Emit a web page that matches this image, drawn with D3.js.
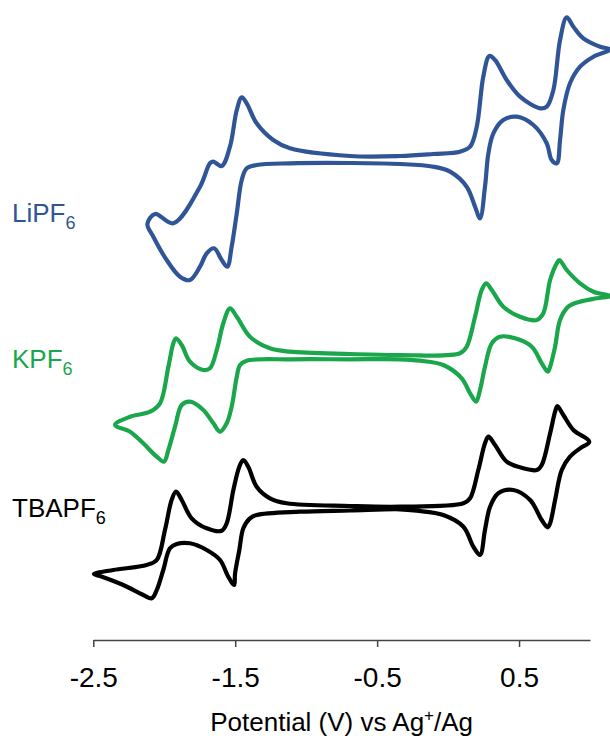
<!DOCTYPE html>
<html>
<head>
<meta charset="utf-8">
<script src="https://cdn.jsdelivr.net/npm/d3@7"></script>
<style>
  html, body { margin: 0; padding: 0; background: #fff; }
  svg { display: block; font-family: "Liberation Sans", Arial, Helvetica, sans-serif; }
</style>
</head>
<body>
<svg id="chart" width="610" height="738"></svg>
<script>
// Cyclic voltammograms, each loop as [potential (V vs Ag+/Ag), current (a.u., relative to its own baseline)]
const liPF6 = [
  [-2.119,-64],[-2.065,-54],[-1.936,-63.3],[-1.748,-26.7],[-1.678,-3.3],[-1.654,-1.7],[-1.595,-6],
  [-1.537,13.3],[-1.489,50],[-1.454,62.7],[-1.419,56.7],[-1.349,36.7],[-1.232,20],[-1.114,11.7],
  [-0.691,4],[-0.339,4],[-0.106,6],[0.084,8.3],[0.155,13.3],[0.202,33.3],[0.248,83.3],[0.291,104],
  [0.331,100],[0.413,80],[0.507,63.3],[0.648,51.7],[0.695,53.3],[0.742,70],[0.789,120],[0.836,142.7],
  [0.883,133.3],[0.953,121.7],[1.071,113.3],[1.141,110.5],
  [1.024,103.3],[0.930,93.3],[0.859,76.7],[0.812,50],[0.789,20],[0.766,-3.3],[0.730,0],[0.695,16.7],
  [0.601,35],[0.484,43.3],[0.389,40],[0.319,26.7],[0.284,6.7],[0.260,-26.7],[0.225,-58.3],[0.190,-46.7],
  [0.131,-26.7],[0.014,-11.7],[-0.104,-6.7],[-0.339,-4],[-0.691,-3],[-1.114,-3.3],[-1.349,-5],
  [-1.419,-8.3],[-1.454,-20],[-1.489,-53.3],[-1.525,-86.7],[-1.556,-106.7],[-1.595,-100],[-1.649,-88.3],
  [-1.701,-93.3],[-1.748,-106.7],[-1.819,-120],[-1.889,-116.7],[-1.983,-100],[-2.077,-76.7]
];

const kPF6 = [
  [-2.347,-65],[-2.241,-56.7],[-2.100,-51.7],[-2.030,-43.3],[-1.971,-6.7],[-1.936,16.7],[-1.917,21.7],
  [-1.877,15],[-1.819,-1.7],[-1.725,-10],[-1.678,-8.3],[-1.630,10],[-1.584,36.7],[-1.537,51.7],
  [-1.489,43.3],[-1.396,23.3],[-1.255,11.7],[-1.114,8.3],[-0.691,6],[-0.339,5],[0.084,6.7],[0.131,13.3],
  [0.190,43.3],[0.237,70],[0.268,76.7],[0.308,70],[0.389,53.3],[0.507,43.3],[0.625,40],[0.671,46.7],
  [0.719,80],[0.766,96.7],[0.784,100],[0.836,90],[0.930,76.7],[1.024,68.3],[1.141,64],
  [1.048,61.7],[0.930,58.3],[0.847,53.3],[0.789,40],[0.754,13.3],[0.719,-6.7],[0.702,-11.7],[0.660,-3.3],
  [0.590,13.3],[0.472,21.7],[0.366,23.3],[0.308,16.7],[0.260,-6.7],[0.225,-30],[0.197,-41.7],[0.155,-33.3],
  [0.096,-18.3],[-0.034,-5],[-0.198,-0.7],[-0.339,0.7],[-0.691,0.7],[-1.114,0.7],[-1.419,-0.7],
  [-1.466,-5],[-1.489,-16.7],[-1.525,-46.7],[-1.560,-63.3],[-1.607,-71.7],[-1.654,-63.3],[-1.725,-50],
  [-1.819,-41.7],[-1.877,-45],[-1.924,-66.7],[-1.971,-90],[-2.002,-101.7],[-2.053,-96.7],[-2.148,-83.3],
  [-2.241,-71.7]
];

const tbaPF6 = [
  [-2.495,-64],[-2.359,-60],[-2.124,-55],[-2.053,-50],[-1.995,-20],[-1.948,10],[-1.917,18.3],[-1.877,10],
  [-1.807,-8.3],[-1.701,-18.3],[-1.595,-20.7],[-1.560,-13.3],[-1.513,20],[-1.471,43.3],[-1.443,50],
  [-1.408,43.3],[-1.349,23.3],[-1.255,11.7],[-1.137,6.7],[-0.691,4],[-0.339,3.3],[0.108,6.7],[0.155,11.7],
  [0.213,40],[0.260,66.7],[0.284,73.3],[0.331,65],[0.413,48.3],[0.530,41.7],[0.625,40],[0.660,45],
  [0.719,76.7],[0.754,98.3],[0.770,104],[0.812,95],[0.883,80],[0.995,68.3],
  [0.930,61.7],[0.859,53.3],[0.801,40],[0.754,10],[0.719,-13.3],[0.702,-17.3],[0.660,-10],[0.578,10],
  [0.460,20],[0.354,16.7],[0.296,3.3],[0.260,-20],[0.225,-45],[0.178,-36.7],[0.108,-16.7],[-0.034,-5],
  [-0.221,-0.7],[-0.339,0.7],[-0.691,-0.5],[-1.043,-1.7],[-1.349,-5],[-1.396,-8.3],[-1.443,-18.3],
  [-1.471,-40],[-1.501,-63.3],[-1.508,-75],[-1.549,-66.7],[-1.607,-50],[-1.701,-40],[-1.819,-33.3],
  [-1.912,-34],[-1.960,-38.3],[-2.007,-60],[-2.053,-80],[-2.088,-88.3],[-2.148,-85],[-2.289,-75],[-2.453,-66]
];

const seriesNames = ["LiPF", "KPF", "TBAPF"];
const seriesData = [liPF6, kPF6, tbaPF6];
const seriesOffsets = [480, 280, 130];   // vertical stacking offsets (a.u.)
const seriesColors = ["#2f5597", "#1aa64a", "#000000"];
const seriesLabelCurrent = [418, 272, 123]; // label baselines (a.u.)

const xTicks = [-2.5, -1.5, -0.5, 0.5];
const xDomain = [-2.5, 1.0];

const svg = d3.select("#chart");

const x = d3.scaleLinear().domain(xDomain).range([93.3, 590]);
const y = d3.scaleLinear().domain([0, 640]).range([640, 0]);

// traces
seriesData.forEach((pts, k) => {
  const line = d3.line()
    .x(d => x(d[0]))
    .y(d => y(d[1] + seriesOffsets[k]))
    .curve(d3.curveCatmullRomClosed.alpha(0.5));
  svg.append("path")
    .attr("d", line(pts))
    .attr("fill", "none")
    .attr("stroke", seriesColors[k])
    .attr("stroke-width", 4.2)
    .attr("stroke-linejoin", "round");
});

// series labels with subscript 6
seriesNames.forEach((name, k) => {
  const t = svg.append("text")
    .attr("x", 12)
    .attr("y", y(seriesLabelCurrent[k]))
    .attr("fill", seriesColors[k])
    .attr("font-size", 26);
  t.append("tspan").text(name);
  t.append("tspan").text("6").attr("font-size", 18).attr("dy", 7);
});

// x axis
const axis = svg.append("g")
  .attr("transform", `translate(0,${y(0)})`)
  .call(d3.axisBottom(x).tickValues(xTicks).tickSize(7).tickSizeOuter(0).tickFormat(d3.format(".1f")));
axis.select(".domain").attr("stroke", "#444").attr("stroke-width", 1.5);
axis.selectAll(".tick line").attr("stroke", "#444").attr("stroke-width", 1.5);
axis.selectAll(".tick text")
  .attr("fill", "#000")
  .attr("font-size", 28)
  .attr("font-family", "'Liberation Sans', Arial, sans-serif")
  .attr("dy", null)
  .attr("y", 47)
  .text(d => d3.format(".1f")(d).replace("−", "-"));

// axis title
const title = svg.append("text")
  .attr("x", (x.range()[0] + x.range()[1]) / 2)
  .attr("y", 731)
  .attr("text-anchor", "middle")
  .attr("font-size", 26)
  .attr("fill", "#000");
title.append("tspan").text("Potential (V) vs Ag");
title.append("tspan").text("+").attr("font-size", 17).attr("dy", -10);
title.append("tspan").text("/Ag").attr("dy", 10);
</script>
</body>
</html>
